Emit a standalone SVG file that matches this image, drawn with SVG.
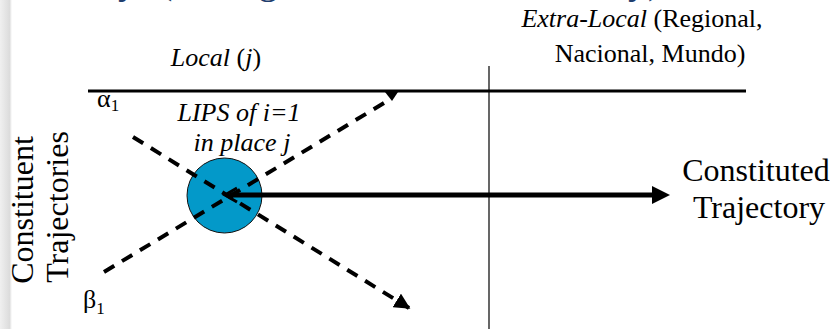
<svg xmlns="http://www.w3.org/2000/svg" width="834" height="329" viewBox="0 0 834 329" font-family="'Liberation Serif', 'Times New Roman', 'DejaVu Serif', serif">
<defs>
<linearGradient id="edge" x1="0" y1="0" x2="1" y2="0">
<stop offset="0" stop-color="#f0f0f0"/>
<stop offset="0.8" stop-color="#dcdcdc"/>
<stop offset="1" stop-color="#ffffff"/>
</linearGradient>
<marker id="tri" viewBox="0 0 10 10" refX="9" refY="5" markerWidth="4" markerHeight="4" orient="auto" markerUnits="strokeWidth">
<path d="M0,0 L10,5 L0,10 Z" fill="#000"/>
</marker>
</defs>
<style>
.it{font-style:italic}
.lbl{font-size:26px}
.big{font-size:32px}
.title{font-size:40px;fill:#1F3E6E}
.dash{stroke:#000;stroke-width:4;stroke-dasharray:12 9;fill:none}
</style>
<rect width="834" height="329" fill="#fff"/>
<rect x="0" y="0" width="12" height="329" fill="url(#edge)"/>
<g id="title">
<text class="title" x="118" y="-7">y</text>
<text class="title" x="159" y="-7">(</text>
<text class="title" x="258" y="-7">g</text>
<text class="title" x="628" y="-7">y)</text>
</g>
<g id="axes">
<line x1="88" y1="91" x2="746" y2="91" stroke="#000" stroke-width="3"/>
<line x1="489" y1="66" x2="489" y2="329" stroke="#000" stroke-width="1.2"/>
</g>
<g id="labels">
<text class="lbl" x="216" y="66" text-anchor="middle"><tspan class="it">Local</tspan> (<tspan class="it">j</tspan>)</text>
<text class="lbl" x="642" y="27" text-anchor="middle"><tspan class="it">Extra-Local</tspan> (Regional,</text>
<text class="lbl" x="650" y="62" text-anchor="middle">Nacional, Mundo)</text>
<text class="big" transform="translate(33,210) rotate(-90)" text-anchor="middle">Constituent</text>
<text class="big" transform="translate(68,207) rotate(-90)" text-anchor="middle">Trajectories</text>
<text x="97" y="107" font-size="26">α<tspan font-size="17" dy="4">1</tspan></text>
<text x="83" y="308" font-size="26">β<tspan font-size="17" dy="6">1</tspan></text>
</g>
<g id="lips">
<circle cx="224.5" cy="195.5" r="37.5" fill="#0399C9" stroke="#111" stroke-width="1"/>
<text class="lbl it" x="239" y="121" text-anchor="middle">LIPS of i=1</text>
<text class="lbl it" x="242" y="151" text-anchor="middle">in place j</text>
</g>
<g id="connectors">
<line class="dash" x1="133" y1="137" x2="409" y2="308" marker-end="url(#tri)"/>
<line class="dash" x1="104" y1="272" x2="384" y2="103"/>
<polygon points="385,92 398,92 392,101" fill="#000"/>
<line x1="230" y1="195" x2="654" y2="195" stroke="#000" stroke-width="5"/>
<polygon points="652,186 670,195 652,204" fill="#000"/>
<polyline points="237,188 225,195 237,202" fill="none" stroke="#000" stroke-width="3"/>
</g>
<g id="result">
<text class="big" x="756" y="181" text-anchor="middle">Constituted</text>
<text class="big" x="759" y="218" text-anchor="middle">Trajectory</text>
</g>
</svg>
